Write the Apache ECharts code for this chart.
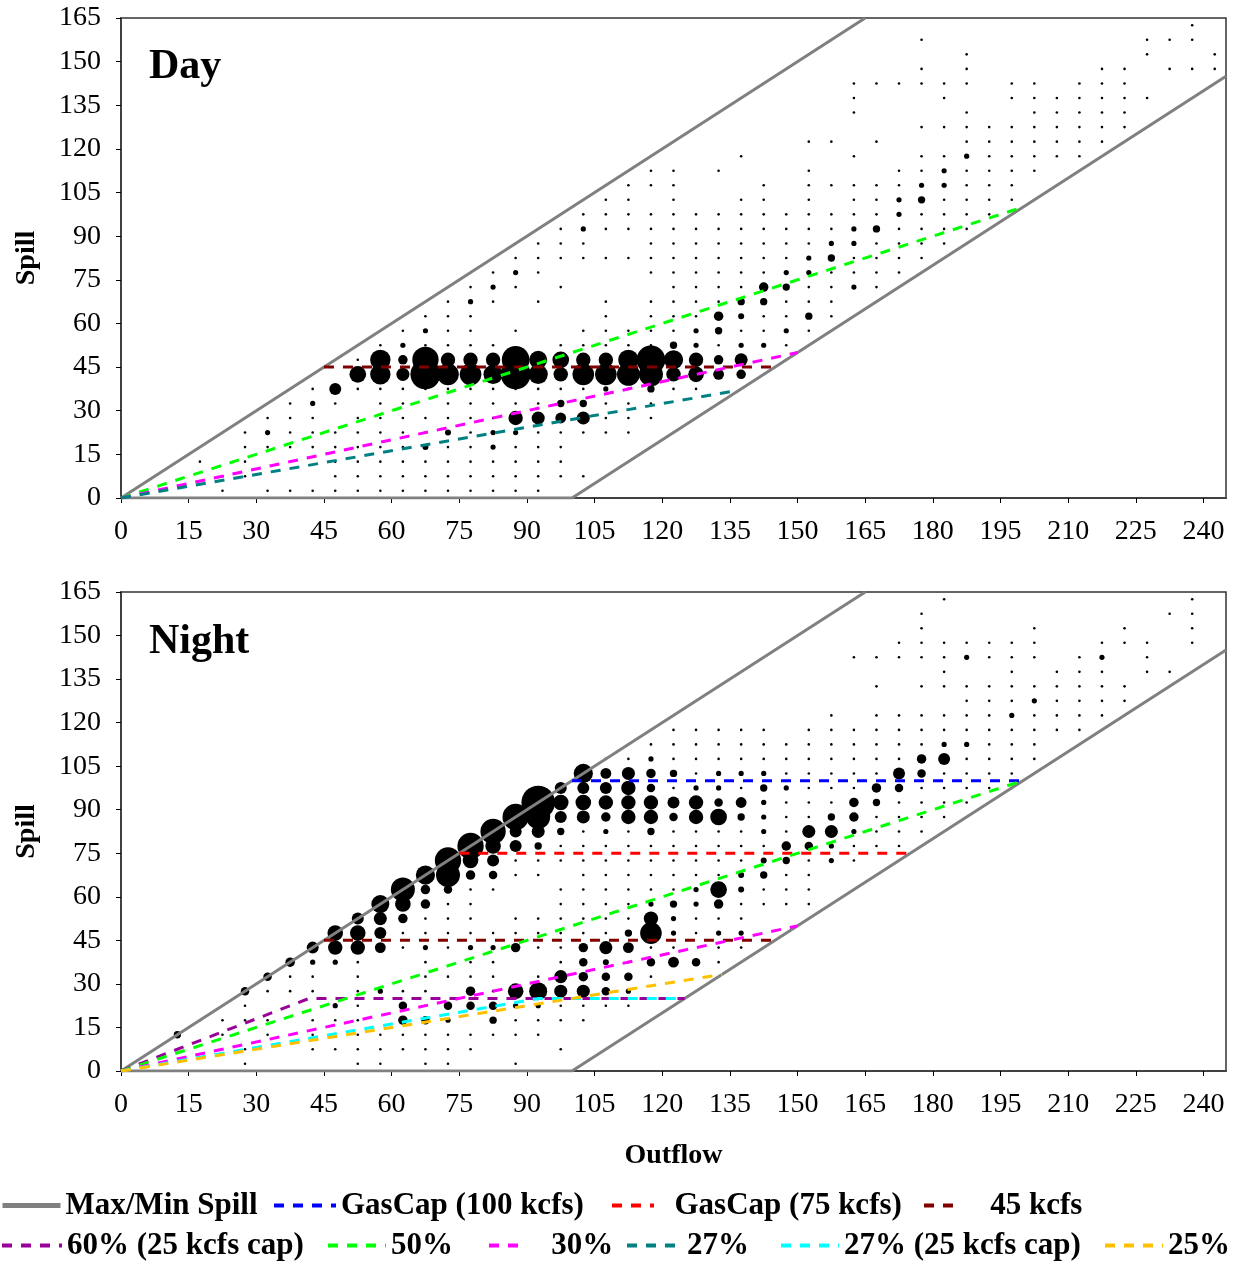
<!DOCTYPE html>
<html><head><meta charset="utf-8">
<script src="https://cdn.jsdelivr.net/npm/echarts@6/dist/echarts.min.js"></script>
<style>html,body{margin:0;padding:0;background:#fff}#c{width:1240px;height:1262px}</style>
</head><body><div id="c"></div>
<script>
// ---------------- DATA ----------------
// Axis ranges (kcfs)
const outflowRange = [0, 245];
const spillRange = [0, 165];
const tickStep = 15;

// Reference lines
const maxSpill = [[0,0],[165,165]];
const minSpill = [[0,0],[100,0],[245,145]];
const line45 = [[45,45],[145,45]];
const line50 = [[0,0],[200,100]];
const line30 = [[0,0],[150,50]];
const line27 = [[0,0],[135,36.5]];
const gas100 = [[100,100],[200,100]];
const gas75 = [[75,75],[175,75]];
const line60cap = [[0,0],[41.7,25],[125,25]];
const line27cap = [[0,0],[92.6,25],[125,25]];
const line25 = [[0,0],[133.3,33.3]];

// Day: single-occurrence bins, [spill, [outflows]]
const dayDots = [
 [2.5,[22.5,32.5,37.5,42.5,47.5,52.5,57.5,62.5,67.5,72.5,77.5,82.5,87.5,92.5]],
 [7.5,[22.5,27.5,47.5,52.5,57.5,62.5,67.5,72.5,77.5,82.5,87.5,92.5,97.5,102.5]],
 [12.5,[17.5,27.5,47.5,52.5,57.5,62.5,67.5,72.5,77.5,82.5,87.5,92.5,97.5]],
 [17.5,[27.5,32.5,37.5,42.5,47.5,52.5,57.5,62.5,72.5,77.5,87.5,92.5,97.5]],
 [22.5,[27.5,37.5,42.5,47.5,52.5,57.5,62.5,67.5,77.5,92.5,97.5,102.5,107.5,112.5]],
 [27.5,[32.5,37.5,42.5,52.5,57.5,62.5,67.5,72.5,77.5,82.5,107.5,112.5,117.5]],
 [32.5,[37.5,47.5,57.5,62.5,72.5,77.5,82.5,87.5,92.5,107.5,112.5,117.5]],
 [37.5,[42.5,52.5,57.5,62.5,67.5,72.5,77.5,82.5,87.5,92.5,97.5,102.5,112.5,122.5,127.5]],
 [47.5,[52.5]],
 [52.5,[57.5,67.5,72.5,77.5,82.5,97.5,102.5,107.5,112.5,117.5,132.5,147.5]],
 [57.5,[62.5,72.5,77.5,87.5,102.5,107.5,112.5,117.5,122.5,137.5,142.5,152.5]],
 [62.5,[67.5,72.5,77.5,107.5,117.5,122.5,127.5,142.5,147.5,157.5]],
 [67.5,[72.5,82.5,92.5,107.5,117.5,122.5,127.5,132.5,147.5,152.5,157.5]],
 [72.5,[77.5,87.5,97.5,122.5,127.5,132.5,137.5,152.5,157.5,167.5]],
 [77.5,[82.5,92.5,117.5,122.5,127.5,132.5,137.5,142.5,157.5,162.5,167.5,172.5]],
 [82.5,[87.5,92.5,97.5,102.5,107.5,112.5,117.5,122.5,127.5,132.5,137.5,142.5,147.5,162.5,167.5,172.5,177.5]],
 [87.5,[92.5,97.5,102.5,117.5,122.5,127.5,132.5,137.5,142.5,147.5,152.5,167.5,172.5,177.5,182.5]],
 [92.5,[97.5,107.5,112.5,117.5,122.5,127.5,132.5,137.5,142.5,147.5,152.5,157.5,172.5,177.5,182.5,187.5]],
 [97.5,[102.5,107.5,112.5,117.5,122.5,127.5,132.5,137.5,142.5,147.5,152.5,157.5,162.5,167.5,177.5,182.5,187.5,192.5]],
 [102.5,[107.5,112.5,122.5,137.5,142.5,152.5,162.5,167.5,182.5,187.5,192.5,197.5]],
 [107.5,[112.5,117.5,122.5,142.5,152.5,157.5,162.5,167.5,172.5,187.5,192.5,197.5]],
 [112.5,[117.5,122.5,132.5,152.5,172.5,177.5,187.5,192.5,197.5,202.5]],
 [117.5,[137.5,162.5,177.5,182.5,192.5,197.5,202.5,207.5,212.5]],
 [122.5,[152.5,157.5,167.5,187.5,192.5,197.5,202.5,207.5,212.5,217.5]],
 [127.5,[177.5,182.5,187.5,192.5,197.5,202.5,207.5,212.5,217.5,222.5]],
 [132.5,[162.5,187.5,202.5,207.5,212.5,217.5,222.5]],
 [137.5,[162.5,182.5,197.5,202.5,207.5,212.5,217.5,222.5,227.5]],
 [142.5,[162.5,167.5,172.5,177.5,182.5,187.5,197.5,202.5,212.5,217.5,222.5]],
 [147.5,[177.5,187.5,217.5,222.5,232.5,237.5,242.5]],
 [152.5,[187.5,227.5,242.5]],
 [157.5,[177.5,227.5,232.5,237.5]],
 [162.5,[237.5]]
];
// Day: larger bins, [outflow, spill, relative count]
const dayBubbles = [
 [82.5,17.5,3],[32.5,22.5,3],[82.5,22.5,3],[87.5,22.5,3],[42.5,32.5,3],[107.5,37.5,3],
 [62.5,52.5,3],[127.5,52.5,3],[137.5,52.5,3],[142.5,52.5,3],[67.5,57.5,3],[127.5,57.5,3],
 [147.5,57.5,3],[77.5,67.5,3],[82.5,72.5,3],[162.5,72.5,3],[87.5,77.5,3],[147.5,77.5,3],
 [152.5,77.5,3],[152.5,82.5,3],[157.5,87.5,3],[162.5,87.5,3],[102.5,92.5,3],[162.5,92.5,3],
 [172.5,97.5,3],[172.5,102.5,3],[177.5,107.5,3],[182.5,107.5,3],[182.5,112.5,3],[187.5,117.5,3],
 [67.5,17.5,4],[72.5,22.5,4],
 [87.5,27.5,23],[92.5,27.5,19],[97.5,27.5,13],[102.5,27.5,19],
 [97.5,32.5,6],[102.5,32.5,6],[47.5,37.5,16],[117.5,37.5,6],
 [52.5,42.5,31],[57.5,42.5,46],[62.5,42.5,19],[67.5,42.5,100],[72.5,42.5,52],[77.5,42.5,52],
 [82.5,42.5,41],[87.5,42.5,100],[92.5,42.5,41],[97.5,42.5,23],[102.5,42.5,52],[107.5,42.5,52],
 [112.5,42.5,58],[117.5,42.5,64],[122.5,42.5,23],[127.5,42.5,27],[132.5,42.5,13],[137.5,42.5,10],
 [57.5,47.5,46],[62.5,47.5,10],[67.5,47.5,77],[72.5,47.5,23],[77.5,47.5,23],[82.5,47.5,23],
 [87.5,47.5,85],[92.5,47.5,36],[97.5,47.5,31],[102.5,47.5,23],[107.5,47.5,23],[112.5,47.5,46],
 [117.5,47.5,92],[122.5,47.5,41],[127.5,47.5,23],[132.5,47.5,10],[137.5,47.5,19],
 [122.5,52.5,6],[132.5,57.5,6],[132.5,62.5,10],[137.5,62.5,4],[152.5,62.5,6],
 [137.5,67.5,6],[142.5,67.5,6],[142.5,72.5,10],[147.5,72.5,6],[157.5,82.5,6],
 [167.5,92.5,6],[177.5,102.5,6]
];

// Night: single-occurrence bins, [spill, [outflows]]
const nightDots = [
 [2.5,[27.5,52.5,57.5,67.5,72.5,87.5]],
 [7.5,[27.5,42.5,47.5,52.5,57.5,62.5,67.5,72.5,77.5,97.5]],
 [12.5,[22.5,32.5,42.5,52.5,57.5,62.5,67.5,72.5,77.5,82.5,87.5,92.5]],
 [17.5,[17.5,22.5,27.5,32.5,42.5,47.5,52.5,87.5,92.5,97.5,102.5]],
 [22.5,[27.5,52.5,67.5,97.5,102.5,107.5,112.5]],
 [27.5,[32.5,37.5,42.5,52.5,62.5,67.5,82.5]],
 [32.5,[37.5,42.5,52.5,67.5,72.5,77.5,82.5,92.5,117.5]],
 [37.5,[52.5,67.5,77.5,82.5,97.5,112.5,132.5]],
 [42.5,[62.5,72.5,92.5,97.5,117.5,122.5,132.5,137.5]],
 [47.5,[62.5,67.5,72.5,77.5,82.5,87.5,92.5,97.5,102.5,107.5,127.5]],
 [52.5,[67.5,72.5,77.5,87.5,92.5,97.5,102.5,107.5,112.5,127.5,132.5,137.5]],
 [57.5,[72.5,77.5,97.5,102.5,107.5,112.5,137.5,142.5,147.5,152.5]],
 [62.5,[77.5,82.5,97.5,102.5,107.5,112.5,117.5,122.5,142.5,147.5,152.5]],
 [67.5,[87.5,92.5,102.5,107.5,112.5,117.5,122.5,127.5,132.5,147.5,152.5]],
 [72.5,[87.5,92.5,97.5,102.5,107.5,112.5,117.5,122.5,127.5,132.5,137.5,152.5,162.5]],
 [77.5,[97.5,102.5,107.5,112.5,117.5,122.5,127.5,132.5,137.5,142.5,162.5,167.5,172.5]],
 [82.5,[102.5,112.5,122.5,127.5,132.5,137.5,147.5,167.5,172.5,177.5]],
 [87.5,[147.5,152.5,167.5,172.5,177.5,182.5]],
 [92.5,[147.5,152.5,157.5,172.5,177.5,182.5,187.5]],
 [97.5,[122.5,137.5,152.5,157.5,162.5,177.5,182.5,187.5,192.5,197.5]],
 [102.5,[127.5,147.5,152.5,157.5,162.5,167.5,182.5,187.5,192.5,197.5]],
 [107.5,[107.5,112.5,122.5,127.5,132.5,137.5,142.5,147.5,152.5,157.5,162.5,167.5,172.5,187.5,192.5,197.5,202.5]],
 [112.5,[117.5,122.5,127.5,132.5,137.5,142.5,147.5,152.5,157.5,162.5,167.5,172.5,177.5,192.5,197.5,202.5]],
 [117.5,[122.5,127.5,132.5,137.5,142.5,152.5,157.5,162.5,167.5,172.5,177.5,182.5,187.5,192.5,197.5,202.5,207.5,212.5]],
 [122.5,[157.5,167.5,172.5,177.5,182.5,187.5,192.5,202.5,207.5,212.5,217.5]],
 [127.5,[187.5,192.5,197.5,207.5,212.5,217.5,222.5]],
 [132.5,[167.5,177.5,182.5,187.5,192.5,197.5,202.5,207.5,212.5,217.5,222.5]],
 [137.5,[182.5,197.5,207.5,212.5,217.5,227.5,232.5]],
 [142.5,[162.5,167.5,172.5,177.5,182.5,192.5,197.5,202.5,212.5,227.5]],
 [147.5,[172.5,177.5,182.5,187.5,192.5,197.5,202.5,217.5,222.5,227.5,237.5]],
 [152.5,[177.5,202.5,222.5,237.5]],
 [157.5,[177.5,232.5,237.5]],
 [162.5,[182.5,237.5]]
];
// Night: larger bins, [outflow, spill, relative count]
const nightBubbles = [
 [72.5,17.5,3],[47.5,22.5,3],[87.5,22.5,3],[92.5,22.5,3],[57.5,27.5,3],[112.5,27.5,3],
 [42.5,37.5,3],[47.5,37.5,3],[67.5,42.5,3],[77.5,42.5,3],[82.5,42.5,3],[122.5,47.5,3],
 [132.5,47.5,3],[137.5,47.5,3],[122.5,52.5,3],[117.5,57.5,3],[127.5,57.5,3],[127.5,62.5,3],
 [157.5,72.5,3],[157.5,77.5,3],[107.5,82.5,3],[142.5,82.5,3],[162.5,82.5,3],[142.5,87.5,3],
 [142.5,92.5,3],[127.5,97.5,3],[132.5,97.5,3],[147.5,97.5,3],[132.5,102.5,3],[137.5,102.5,3],
 [142.5,102.5,3],[117.5,107.5,3],[182.5,112.5,3],[187.5,112.5,3],[197.5,122.5,3],[202.5,127.5,3],
 [187.5,142.5,3],[217.5,142.5,3],
 [12.5,12.5,6],[62.5,17.5,10],[67.5,17.5,8],[82.5,17.5,6],
 [62.5,22.5,8],[72.5,22.5,8],[77.5,22.5,8],[82.5,22.5,8],
 [27.5,27.5,8],[77.5,27.5,10],[87.5,27.5,27],[92.5,27.5,36],[97.5,27.5,19],[102.5,27.5,19],[107.5,27.5,8],
 [32.5,32.5,8],[97.5,32.5,19],[102.5,32.5,10],[107.5,32.5,8],[112.5,32.5,8],
 [37.5,37.5,10],[102.5,37.5,8],[107.5,37.5,4],[117.5,37.5,8],[122.5,37.5,13],[127.5,37.5,8],
 [42.5,42.5,16],[47.5,42.5,23],[52.5,42.5,23],[57.5,42.5,13],[87.5,42.5,10],[102.5,42.5,10],[107.5,42.5,19],[112.5,42.5,13],
 [47.5,47.5,27],[52.5,47.5,27],[57.5,47.5,16],[112.5,47.5,6],[117.5,47.5,52],
 [52.5,52.5,16],[57.5,52.5,19],[62.5,52.5,10],[117.5,52.5,23],
 [57.5,57.5,36],[62.5,57.5,27],[67.5,57.5,10],[122.5,57.5,6],[132.5,57.5,10],
 [62.5,62.5,64],[67.5,62.5,10],[72.5,62.5,8],[132.5,62.5,31],[137.5,62.5,4],
 [67.5,67.5,41],[72.5,67.5,64],[77.5,67.5,10],[82.5,67.5,8],[137.5,67.5,4],[142.5,67.5,6],
 [72.5,72.5,77],[77.5,72.5,27],[82.5,72.5,16],[142.5,72.5,4],[147.5,72.5,6],
 [77.5,77.5,77],[82.5,77.5,27],[87.5,77.5,16],[92.5,77.5,6],[147.5,77.5,10],[152.5,77.5,8],
 [82.5,82.5,71],[87.5,82.5,16],[92.5,82.5,19],[97.5,82.5,6],[117.5,82.5,6],[152.5,82.5,19],[157.5,82.5,19],
 [87.5,87.5,77],[92.5,87.5,64],[97.5,87.5,16],[102.5,87.5,19],[107.5,87.5,10],[112.5,87.5,23],[117.5,87.5,23],
 [122.5,87.5,8],[127.5,87.5,23],[132.5,87.5,31],[137.5,87.5,6],[157.5,87.5,6],[162.5,87.5,10],
 [92.5,92.5,125],[97.5,92.5,27],[102.5,92.5,27],[107.5,92.5,23],[112.5,92.5,23],[117.5,92.5,23],[122.5,92.5,16],
 [127.5,92.5,23],[132.5,92.5,8],[137.5,92.5,13],[162.5,92.5,10],[167.5,92.5,6],
 [97.5,97.5,16],[102.5,97.5,16],[107.5,97.5,16],[112.5,97.5,23],[117.5,97.5,8],[142.5,97.5,6],[167.5,97.5,10],[172.5,97.5,8],
 [102.5,102.5,41],[107.5,102.5,13],[112.5,102.5,19],[117.5,102.5,10],[122.5,102.5,6],[172.5,102.5,16],[177.5,102.5,8],
 [177.5,107.5,10],[182.5,107.5,16]
];

// ---------------- CHART ----------------
const FONT = "'Times New Roman','Liberation Serif',serif";
function expand(rows){ const out=[]; rows.forEach(r => r[1].forEach(x => out.push([x, r[0], 1]))); return out; }
const dayData = expand(dayDots).concat(dayBubbles);
const nightData = expand(nightDots).concat(nightBubbles);

const C = {gray:'#808080', blue:'#0000FF', red:'#FF0000', dred:'#800000', purple:'#990099',
  green:'#00FF00', magenta:'#FF00FF', teal:'#008080', cyan:'#00FFFF', orange:'#FFC000'};
const DASH = [10, 9];

function lineS(name, data, color, gi, solid){
  return {type:'line', name, data, xAxisIndex:gi, yAxisIndex:gi, symbol:'none', silent:true,
    lineStyle:{color, width:3, type: solid?'solid':DASH, cap:'butt'}, itemStyle:{color}, z:3};
}
function scatterS(data, gi){
  return {type:'scatter', data, xAxisIndex:gi, yAxisIndex:gi, silent:true, z:2,
    symbol:'circle', symbolSize: v => (v[2] <= 1 ? 2.6 : 3.0*Math.sqrt(v[2])), itemStyle:{color:'#000', opacity:1}};
}
function xAx(gi, withName){
  const a = {type:'value', gridIndex:gi, min:outflowRange[0], max:outflowRange[1], interval:tickStep,
    axisLine:{show:true, onZero:false, lineStyle:{color:'#404040', width:2}},
    axisTick:{show:true, inside:false, length:5, lineStyle:{color:'#000'}},
    axisLabel:{margin:20, fontSize:28, fontFamily:FONT, color:'#000', showMaxLabel:false,
      formatter: v => (v % tickStep === 0 ? String(v) : '')},
    splitLine:{show:false}};
  if (withName){ Object.assign(a, {name:'Outflow', nameLocation:'middle', nameGap:71,
    nameTextStyle:{fontSize:28, fontWeight:'bold', fontFamily:FONT, color:'#000'}}); }
  return a;
}
function yAx(gi){
  return {type:'value', gridIndex:gi, min:spillRange[0], max:spillRange[1], interval:tickStep,
    name:'Spill', nameLocation:'middle', nameGap:80,
    nameTextStyle:{fontSize:28, fontWeight:'bold', fontFamily:FONT, color:'#000'},
    axisLine:{show:true, onZero:false, lineStyle:{color:'#404040', width:2}},
    axisTick:{show:true, inside:false, length:5, lineStyle:{color:'#000'}},
    axisLabel:{margin:20, fontSize:28, fontFamily:FONT, color:'#000'},
    splitLine:{show:false}};
}

const legendSpec = [
 ['Max/Min Spill', 0, 1190, 58, null, 5],
 ['GasCap (100 kcfs)', 272, 1190, 62, null, 4],
 ['GasCap (75 kcfs)', 610, 1190, 42, '  GasCap (75 kcfs)', 4],
 ['45 kcfs', 922, 1190, 38, '   45 kcfs', 4],
 ['60% (25 kcfs cap)', 0, 1230, 60, null, 4],
 ['50%', 326, 1230, 58, null, 4],
 ['30%', 487, 1230, 34, '   30%', 4],
 ['27%', 625, 1230, 55, null, 4],
 ['27% (25 kcfs cap)', 779, 1230, 58, null, 4],
 ['25%', 1103, 1230, 58, null, 4]
];
const legends = legendSpec.map(s => ({
  data:[s[0]], left:s[1], top:s[2], itemWidth:s[3], itemHeight:14, itemGap:0, padding:0,
  selectedMode:false, orient:'horizontal',
  itemStyle:{opacity:0, borderWidth:0},
  lineStyle:{width:s[5]},
  formatter: s[4] ? (() => s[4]) : undefined,
  textStyle:{fontSize:31, fontWeight:'bold', fontFamily:FONT, color:'#000'}
}));

const option = {
  animation:false,
  backgroundColor:'#fff',
  title:[
    {text:'Day', left:149, top:46, padding:0, textStyle:{fontSize:42, fontWeight:'bold', fontFamily:FONT, color:'#000'}},
    {text:'Night', left:149, top:621, padding:0, textStyle:{fontSize:42, fontWeight:'bold', fontFamily:FONT, color:'#000'}}
  ],
  legend: legends,
  grid:[
    {left:121, top:18, width:1105, height:480, show:true, borderColor:'#333', borderWidth:1.5, backgroundColor:'#fff'},
    {left:121, top:592, width:1105, height:479, show:true, borderColor:'#333', borderWidth:1.5, backgroundColor:'#fff'}
  ],
  xAxis:[xAx(0,false), xAx(1,true)],
  yAxis:[yAx(0), yAx(1)],
  series:[
    scatterS(dayData, 0),
    lineS('Max/Min Spill', maxSpill, C.gray, 0, true),
    lineS('Max/Min Spill', minSpill, C.gray, 0, true),
    lineS('45 kcfs', line45, C.dred, 0),
    lineS('50%', line50, C.green, 0),
    lineS('30%', line30, C.magenta, 0),
    lineS('27%', line27, C.teal, 0),

    scatterS(nightData, 1),
    lineS('Max/Min Spill', maxSpill, C.gray, 1, true),
    lineS('Max/Min Spill', minSpill, C.gray, 1, true),
    lineS('GasCap (100 kcfs)', gas100, C.blue, 1),
    lineS('GasCap (75 kcfs)', gas75, C.red, 1),
    lineS('45 kcfs', line45, C.dred, 1),
    lineS('60% (25 kcfs cap)', line60cap, C.purple, 1),
    lineS('50%', line50, C.green, 1),
    lineS('30%', line30, C.magenta, 1),
    lineS('27% (25 kcfs cap)', line27cap, C.cyan, 1),
    lineS('25%', line25, C.orange, 1)
  ]
};
const chart = echarts.init(document.getElementById('c'), null, {renderer:'canvas'});
chart.setOption(option);
</script>
</body></html>
